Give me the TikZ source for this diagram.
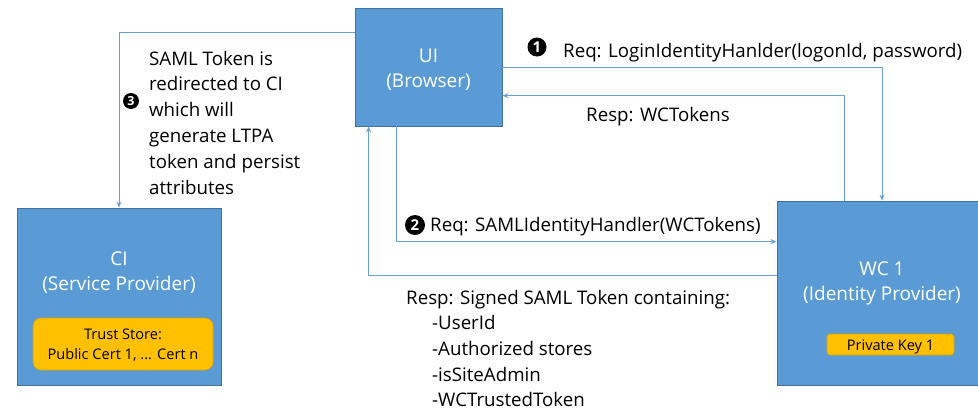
\documentclass[tikz,border=0pt]{standalone}
\usepackage{fontspec}
\setmainfont{Open Sans}
\usetikzlibrary{arrows.meta,calc}
\definecolor{boxblue}{HTML}{5B9BD5}
\definecolor{boxedge}{HTML}{41719C}
\definecolor{linkblue}{HTML}{6A9FD6}
\definecolor{gold}{HTML}{FFC000}
\definecolor{goldedge}{HTML}{D9A300}
\tikzset{
  party/.style={draw=boxedge, line width=0.8pt, fill=boxblue, inner sep=0pt},
  keybox/.style={draw=goldedge, line width=0.6pt, fill=gold, inner sep=0pt},
  conn/.style={draw=linkblue, line width=0.9pt, -{Stealth[length=6pt,width=5pt]}},
  lbl/.style={anchor=base west, inner sep=0pt, font=\fontsize{18.7}{22}\selectfont},
  boxlbl/.style={anchor=base, inner sep=0pt, text=white, font=\fontsize{19}{22}\selectfont},
  keylbl/.style={anchor=base, inner sep=0pt, font=\fontsize{14.6}{17}\selectfont},
  num/.style={circle, fill=black, text=white, inner sep=0pt, font=\bfseries\fontsize{15}{15}\selectfont},
}
\begin{document}
\begin{tikzpicture}[x=1pt,y=-1pt]
\useasboundingbox (0,0) rectangle (978,410);

% parties
\node[party, minimum width=147, minimum height=118] (ui) at (428.5,67) {};
\node[party, minimum width=204, minimum height=177] (ci) at (119,296.5) {};
\node[party, minimum width=210, minimum height=184] (wc) at (882,293) {};

\node[boxlbl] (uiname) at (428.5,62) {UI};
\node[boxlbl] (uirole) at (428.5,87) {(Browser)};
\node[boxlbl] (ciname) at (119,265) {CI};
\node[boxlbl] (cirole) at (119,290) {(Service Provider)};
\node[boxlbl] (wcname) at (882,275) {WC 1};
\node[boxlbl] (wcrole) at (882,300) {(Identity Provider)};

% key material
\node[keybox, rounded corners=8pt, minimum width=180, minimum height=52] (trust) at (123,344) {};
\node[keylbl] (trust1) at (123,339) {Trust Store:};
\node[keylbl] (trust2) at (123,359) {Public Cert 1, ... Cert n};
\node[keybox, rounded corners=3pt, minimum width=127, minimum height=21] (pkey) at (890.5,344.5) {};
\node[keylbl] (pkeytxt) at (890.5,350) {Private Key 1};

% step 1: login request and response
\draw[conn] ($(ui.north east)+(0,60)$) -| (wc.north);
\draw[conn] ($(wc.north)+(-38,0)$) |- ($(ui.north east)+(0,88)$);
\node[num, minimum size=19pt] (n1) at (537,47) {1};
\node[lbl] (req1) at (563,57) {Req: LoginIdentityHanlder(logonId, password)};
\node[lbl] (resp1) at (586,121) {Resp: WCTokens};

% step 2: SAML request and signed response
\draw[conn] ($(ui.south west)+(42,0)$) |- ($(wc.north west)+(0,41)$);
\draw[conn] ($(wc.north west)+(0,75)$) -| ($(ui.south west)+(14,0)$);
\node[num, minimum size=20pt] (n2) at (415,225) {2};
\node[lbl] (req2) at (430,231) {Req: SAMLIdentityHandler(WCTokens)};
\node[lbl] (resp2) at (406,304) {Resp: Signed SAML Token containing:};
\foreach \t [count=\i] in {-UserId,-Authorized stores,-isSiteAdmin,-WCTrustedToken}
  \node[lbl] (claim\i) at (432,304+25.7*\i) {\t};

% step 3: redirect to CI
\draw[conn] ($(ui.north west)+(0,25)$) -| (ci.north);
\node[num, minimum size=16pt, font=\bfseries\fontsize{12.5}{12.5}\selectfont] (n3) at (131,101) {3};
\foreach \t [count=\i from 0] in {SAML Token is,redirected to CI,which will,generate LTPA,token and persist,attributes}
  \node[lbl] (note\i) at (149,65+25.8*\i) {\t};
\end{tikzpicture}
\end{document}
